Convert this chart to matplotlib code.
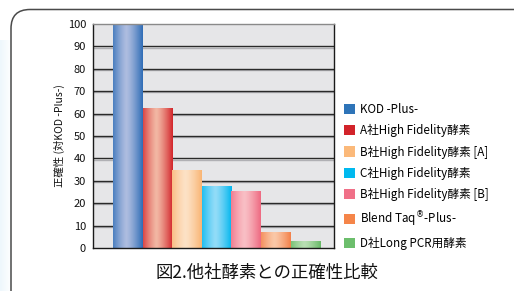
import numpy as np
import matplotlib
matplotlib.use("Agg")
import matplotlib.pyplot as plt
from matplotlib.patches import FancyBboxPatch, Rectangle
from matplotlib import transforms
import matplotlib.colors as mcolors

plt.rcParams['font.family'] = ['Noto Sans CJK JP', 'DejaVu Sans']

categories = ["KOD -Plus-", "A社High Fidelity酵素", "B社High Fidelity酵素 [A]",
              "C社High Fidelity酵素", "B社High Fidelity酵素 [B]",
              "Blend Taq$^{\\circledR}$-Plus-", "D社Long PCR用酵素"]
values = [100, 62.5, 34.8, 27.6, 25.4, 7.1, 3.1]
yticks = [0, 10, 20, 30, 40, 50, 60, 70, 80, 90, 100]
ylabel = "正確性 (対KOD -Plus-)"
title = "図2.他社酵素との正確性比較"

edge_colors = ["#2f6db6", "#d3262c", "#f9b574", "#00b6ee", "#ee6a82", "#f3814a", "#68ba68"]
center_colors = ["#aebde0", "#f2b7a3", "#fde2c6", "#92dcf8", "#f9bfc5", "#fac8a8", "#b9dfb3"]
legend_colors = ["#2e74b8", "#d2232a", "#fbb97a", "#00b9ef", "#f07088", "#f58549", "#6cbe6c"]

W, H = 514, 291
fig = plt.figure(figsize=(W / 100, H / 100), dpi=100)
fig.patch.set_facecolor("white")

# background light blue tint at left
bg = fig.add_axes([0, 0, 1, 1], zorder=-5)
bg.set_xlim(0, W); bg.set_ylim(H, 0); bg.axis("off")
grad = np.linspace(1, 0, 40)[None, :]
cmap_bg = mcolors.LinearSegmentedColormap.from_list("bgc", ["#ffffff", "#eef7fc"])
bg.imshow(np.tile(grad, (10, 1)), extent=[0, 12, H, 40], cmap=cmap_bg, aspect="auto",
          interpolation="bilinear", vmin=0, vmax=1)
frame = FancyBboxPatch((11, 9.5), 495 + 40, 280 + 40,
                       boxstyle="round,pad=0,rounding_size=19",
                       facecolor="white", edgecolor="#4a4a4a", lw=1.1)
bg.add_patch(frame)
bg.set_xlim(0, W); bg.set_ylim(H, 0)

# main axes
ax = fig.add_axes([93 / W, 1 - 248 / H, (334 - 93) / W, (248 - 24) / H])
ax.set_facecolor("#e6e6e8")
x = np.arange(len(values))

# gridlines with light shadow
ytr = ax.get_yaxis_transform()
shadow = transforms.offset_copy(ytr, fig=fig, x=0, y=-1.2, units="dots")
for t in yticks[1:-1]:
    ax.plot([0, 1], [t, t], color="#b0b0b4", lw=1.0, zorder=1, transform=shadow)
    ax.plot([0, 1], [t, t], color="#2a2a2a", lw=1.0, zorder=1.1, transform=ytr)

bars = ax.bar(x, values, width=1.0, color=edge_colors, zorder=2, linewidth=0)
prof = np.linspace(0, 1, 64)
prof = 1 - np.clip(np.abs(prof - 0.45) / 0.55, 0, 1) ** 1.3
for b, ec, cc in zip(bars, edge_colors, center_colors):
    cm = mcolors.LinearSegmentedColormap.from_list("g", [ec, cc])
    x0 = b.get_x(); w = b.get_width(); h = b.get_height()
    ax.imshow(prof[None, :], extent=[x0, x0 + w, 0, h], cmap=cm, vmin=0, vmax=1,
              aspect="auto", interpolation="bilinear", zorder=3)
ax.set_xlim(-1.18, 6.97)
ax.set_ylim(0, 100)

ax.set_xticks([])
ax.set_yticks(yticks)
ax.tick_params(axis="y", length=0, pad=5, labelsize=8, labelcolor="#111111")
for s in ax.spines.values():
    s.set_color("#1a1a1a"); s.set_linewidth(1.0); s.set_zorder(5)
ax.spines["top"].set_color("#8a8a8a")
ax.set_ylabel(ylabel, fontsize=7.5, labelpad=2, color="#111111")

# legend
handles = [Rectangle((0, 0), 1, 1, facecolor=c, edgecolor="none") for c in legend_colors]
fig.legend(handles, categories, loc="upper left", bbox_to_anchor=(344 / W, 1 - 103 / H),
           frameon=False, fontsize=8.4, handlelength=0.95, handleheight=0.95,
           handletextpad=0.45, labelspacing=0.70, borderaxespad=0, borderpad=0)

fig.text(267 / W, 1 - 273 / H, title, ha="center", va="center", fontsize=12.5,
         color="#111111")

fig.savefig("out.png", dpi=100)
